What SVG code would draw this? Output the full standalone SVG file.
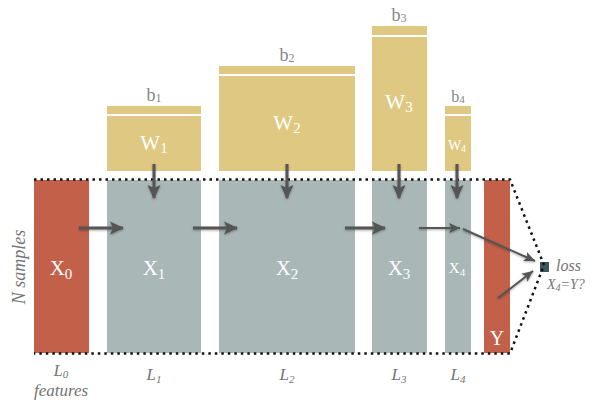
<svg xmlns="http://www.w3.org/2000/svg" width="595" height="404" viewBox="0 0 595 404">
<defs>
<style>
.red{fill:#c2604a}
.gray{fill:#a9b8b7}
.yel{fill:#dfc881}
.lbl{font-family:"Liberation Serif","DejaVu Serif",serif;fill:#ffffff}
.b{font-family:"Liberation Serif","DejaVu Serif",serif;fill:#858585}
.it{font-family:"Liberation Serif","DejaVu Serif",serif;fill:#747474;font-style:italic}
.dot{fill:none;stroke:#111;stroke-width:2.5;stroke-dasharray:2.5 4}
.arr{stroke:#555;stroke-width:3;fill:none;marker-end:url(#ah)}
.arrt{stroke:#555;stroke-width:2;fill:none;marker-end:url(#ahs)}
</style>
<marker id="ah" markerUnits="userSpaceOnUse" markerWidth="15" markerHeight="15" viewBox="0 0 15 15" refX="13" refY="7.5" orient="auto">
<path d="M0,1 L14,7.5 L0,14 L3,7.5 z" fill="#555"/>
</marker>
<marker id="ahs" markerUnits="userSpaceOnUse" markerWidth="12" markerHeight="12" viewBox="0 0 12 12" refX="11" refY="6" orient="auto">
<path d="M0,1 L11,6 L0,11 L2.5,6 z" fill="#555"/>
</marker>
<filter id="sh" x="-20%" y="-20%" width="140%" height="140%">
<feDropShadow dx="0" dy="1" stdDeviation="1.2" flood-color="#000" flood-opacity="0.35"/>
</filter>
</defs>

<g id="X0"><rect class="red" x="34" y="180" width="55" height="173"/><text class="lbl" x="61" y="275" font-size="21" text-anchor="middle">X<tspan font-size="15" dy="4">0</tspan></text></g>
<g id="X1"><rect class="gray" x="107" y="180" width="94" height="173"/><text class="lbl" x="154" y="275" font-size="21" text-anchor="middle">X<tspan font-size="15" dy="4">1</tspan></text></g>
<g id="X2"><rect class="gray" x="219" y="180" width="136" height="173"/><text class="lbl" x="287" y="275" font-size="21" text-anchor="middle">X<tspan font-size="15" dy="4">2</tspan></text></g>
<g id="X3"><rect class="gray" x="372" y="180" width="55" height="173"/><text class="lbl" x="399" y="275" font-size="21" text-anchor="middle">X<tspan font-size="15" dy="4">3</tspan></text></g>
<g id="X4"><rect class="gray" x="445" y="180" width="26" height="173"/><text class="lbl" x="457" y="273" font-size="15" text-anchor="middle">X<tspan font-size="11" dy="3">4</tspan></text></g>
<g id="Y"><rect class="red" x="484" y="180" width="26" height="173"/><text class="lbl" x="497" y="345" font-size="20" text-anchor="middle">Y</text></g>

<g id="W1"><rect class="yel" x="107" y="106" width="94" height="8"/><rect class="yel" x="107" y="116" width="94" height="55"/><text class="b" x="154" y="101" font-size="18" text-anchor="middle">b<tspan font-size="12" dy="1">1</tspan></text><text class="lbl" x="154" y="150" font-size="21" text-anchor="middle">W<tspan font-size="15" dy="3">1</tspan></text></g>
<g id="W2"><rect class="yel" x="219" y="66" width="136" height="8"/><rect class="yel" x="219" y="76" width="136" height="95"/><text class="b" x="287" y="61" font-size="18" text-anchor="middle">b<tspan font-size="12" dy="1">2</tspan></text><text class="lbl" x="287" y="130" font-size="21" text-anchor="middle">W<tspan font-size="15" dy="3">2</tspan></text></g>
<g id="W3"><rect class="yel" x="372" y="26" width="55" height="9"/><rect class="yel" x="372" y="37" width="55" height="134"/><text class="b" x="399" y="21" font-size="18" text-anchor="middle">b<tspan font-size="12" dy="1">3</tspan></text><text class="lbl" x="399" y="109" font-size="21" text-anchor="middle">W<tspan font-size="15" dy="3">3</tspan></text></g>
<g id="W4"><rect class="yel" x="445" y="106" width="26" height="8"/><rect class="yel" x="445" y="116" width="26" height="55"/><text class="b" x="458" y="102" font-size="16" text-anchor="middle">b<tspan font-size="11" dy="1">4</tspan></text><text class="lbl" x="457" y="150" font-size="14" text-anchor="middle">W<tspan font-size="10" dy="2">4</tspan></text></g>

<g id="loss"><rect x="540" y="262" width="9" height="10" fill="#3b565c"/><text class="it" x="556" y="271" font-size="16">loss</text><text class="it" x="547" y="289" font-size="14">X<tspan font-size="10" dy="2">4</tspan><tspan dy="-2">=Y?</tspan></text></g>

<g id="labels">
<text class="it" transform="translate(25,267) rotate(-90)" font-size="18" text-anchor="middle">N samples</text>
<text class="it" x="61" y="376" font-size="16" text-anchor="middle">L<tspan font-size="11" dy="2">0</tspan></text>
<text class="it" x="61" y="396" font-size="17" text-anchor="middle">features</text>
<text class="it" x="154" y="380" font-size="17" text-anchor="middle">L<tspan font-size="11" dy="3">1</tspan></text>
<text class="it" x="287" y="380" font-size="17" text-anchor="middle">L<tspan font-size="11" dy="3">2</tspan></text>
<text class="it" x="399" y="380" font-size="17" text-anchor="middle">L<tspan font-size="11" dy="3">3</tspan></text>
<text class="it" x="458" y="380" font-size="17" text-anchor="middle">L<tspan font-size="11" dy="3">4</tspan></text>
</g>

<g id="connectors">
<path class="dot" d="M34,179.5 H510 L544,265 L510,353.5 H34"/>
<g filter="url(#sh)">
<line class="arr" x1="79" y1="228" x2="123" y2="228"/>
<line class="arr" x1="193" y1="228" x2="237" y2="228"/>
<line class="arr" x1="345" y1="228" x2="385" y2="228"/>
<line class="arrt" x1="419" y1="228" x2="460" y2="228"/>
<line class="arr" x1="154" y1="164" x2="154" y2="198"/>
<line class="arr" x1="287" y1="164" x2="287" y2="198"/>
<line class="arr" x1="399" y1="164" x2="399" y2="198"/>
<line class="arr" x1="457" y1="164" x2="457" y2="198"/>
<line class="arrt" x1="463" y1="229" x2="535" y2="261"/>
<line class="arrt" x1="498" y1="298" x2="533" y2="271"/>
</g>
</g>
</svg>
